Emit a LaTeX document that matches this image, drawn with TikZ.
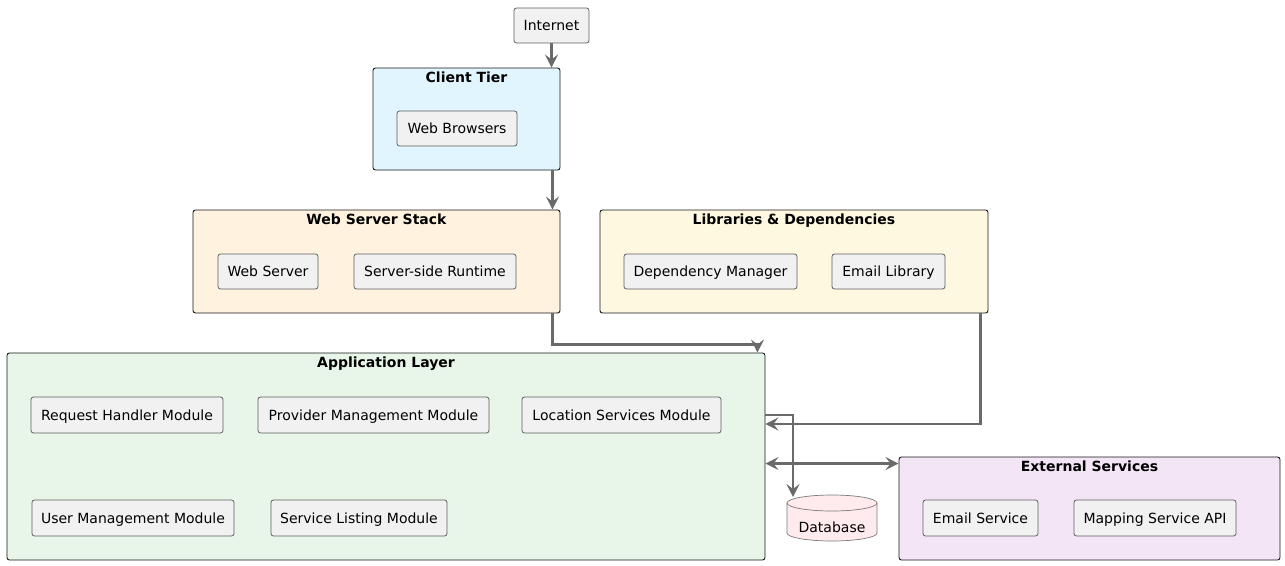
\documentclass[tikz,border=0pt]{standalone}
\usepackage{fontspec}
\setmainfont{DejaVu Sans}
\usetikzlibrary{arrows.meta,calc}
\definecolor{boxfill}{HTML}{F1F1F1}
\definecolor{boxline}{HTML}{5E5E5E}
\definecolor{contline}{HTML}{181818}
\definecolor{arrc}{HTML}{6A6A6A}
\definecolor{clientc}{HTML}{E1F5FE}
\definecolor{wssc}{HTML}{FFF3E0}
\definecolor{libc}{HTML}{FFF8E1}
\definecolor{appc}{HTML}{E8F5E9}
\definecolor{extc}{HTML}{F3E5F5}
\definecolor{dbc}{HTML}{FFEBEE}
\definecolor{dbline}{HTML}{7A7A7A}
\begin{document}
\begin{tikzpicture}[x=1pt,y=-1pt,
  every node/.style={font=\fontsize{14}{16}\selectfont},
  comp/.style={draw=boxline,fill=boxfill,line width=0.8pt,rounded corners=2.5pt,inner sep=0pt,minimum height=35pt,text depth=0pt,text height=10.5pt},
  cont/.style={draw=contline,line width=0.9pt,rounded corners=2.5pt,inner sep=0pt},
  ttl/.style={font=\fontsize{14}{16}\selectfont\bfseries,anchor=north,inner sep=2.5pt,yshift=-2pt},
  conn/.style={draw=arrc,line width=2.2pt,-{Stealth[length=13pt,width=13pt,inset=5pt]}},
  biconn/.style={draw=arrc,line width=2.2pt,{Stealth[length=13pt,width=13pt,inset=5pt]}-{Stealth[length=13pt,width=13pt,inset=5pt]}}
]
\useasboundingbox (0,0) rectangle (1285,565);

% containers
\node[cont,fill=clientc,minimum width=187pt,minimum height=102pt,
  label={[ttl,name=clientT]north:Client Tier}] (client) at (466.5,119) {};
\node[cont,fill=wssc,minimum width=367pt,minimum height=103pt,
  label={[ttl,name=wssT]north:Web Server Stack}] (wss) at (376.5,261.5) {};
\node[cont,fill=libc,minimum width=388pt,minimum height=103pt,
  label={[ttl,name=libT]north:Libraries \& Dependencies}] (libs) at (794,261.5) {};
\node[cont,fill=appc,minimum width=758pt,minimum height=207pt,
  label={[ttl,name=appT]north:Application Layer}] (app) at (386,456.5) {};
\node[cont,fill=extc,minimum width=381pt,minimum height=103pt,
  label={[ttl,name=extT]north:External Services}] (ext) at (1089.5,508.5) {};

% components
\node[comp,minimum width=75pt] (internet) at (551.5,25.5) {Internet};
\node[comp,minimum width=120pt] (browsers) at (457,128.5) {Web Browsers};
\node[comp,minimum width=100pt] (webserver) at (268,271.5) {Web Server};
\node[comp,minimum width=162pt] (runtime) at (435,271.5) {Server-side Runtime};
\node[comp,minimum width=173pt] (depman) at (710.5,271.5) {Dependency Manager};
\node[comp,minimum width=113pt] (emaillib) at (888.5,271.5) {Email Library};
\node[comp,minimum width=192pt,minimum height=36pt] (reqh) at (127,415) {Request Handler Module};
\node[comp,minimum width=231pt,minimum height=36pt] (provm) at (373.5,415) {Provider Management Module};
\node[comp,minimum width=199pt,minimum height=36pt] (locs) at (621.5,415) {Location Services Module};
\node[comp,minimum width=202pt,minimum height=36pt] (userm) at (133,518) {User Management Module};
\node[comp,minimum width=176pt,minimum height=36pt] (servl) at (359,518) {Service Listing Module};
\node[comp,minimum width=115pt,minimum height=36pt] (emails) at (980.5,518) {Email Service};
\node[comp,minimum width=162pt,minimum height=36pt] (maps) at (1155,518) {Mapping Service API};

% database cylinder
\draw[draw=dbline,fill=dbc,line width=0.7pt]
  (787,503) -- (787,533) arc[start angle=180,end angle=360,x radius=45pt,y radius=8pt]
  -- (877,503) arc[start angle=0,end angle=180,x radius=45pt,y radius=8pt] -- cycle;
\draw[draw=dbline,line width=0.7pt] (787,503) arc[start angle=180,end angle=360,x radius=45pt,y radius=8pt];
\node[inner sep=0pt] (db) at (832,527) {Database};
\coordinate (dbin) at (793,497);

% connectors
\draw[conn] (internet.south) -- (internet.south |- client.north);
\draw[conn] ([xshift=-8pt]client.south east) -- ([xshift=-8pt]client.south east |- wss.north);
\draw[conn] ([xshift=-8pt]wss.south east) -- ++(0,31) -| ([xshift=-8pt]app.north east);
\draw[conn] ([xshift=-8pt]libs.south east) |- ([yshift=32.5pt]app.east);
\draw[conn] ([yshift=41.5pt]app.east) -| (dbin);
\coordinate (xa) at ([yshift=-7pt]ext.north west);
\draw[biconn] (xa -| app.east) -- (xa);
\end{tikzpicture}
\end{document}
